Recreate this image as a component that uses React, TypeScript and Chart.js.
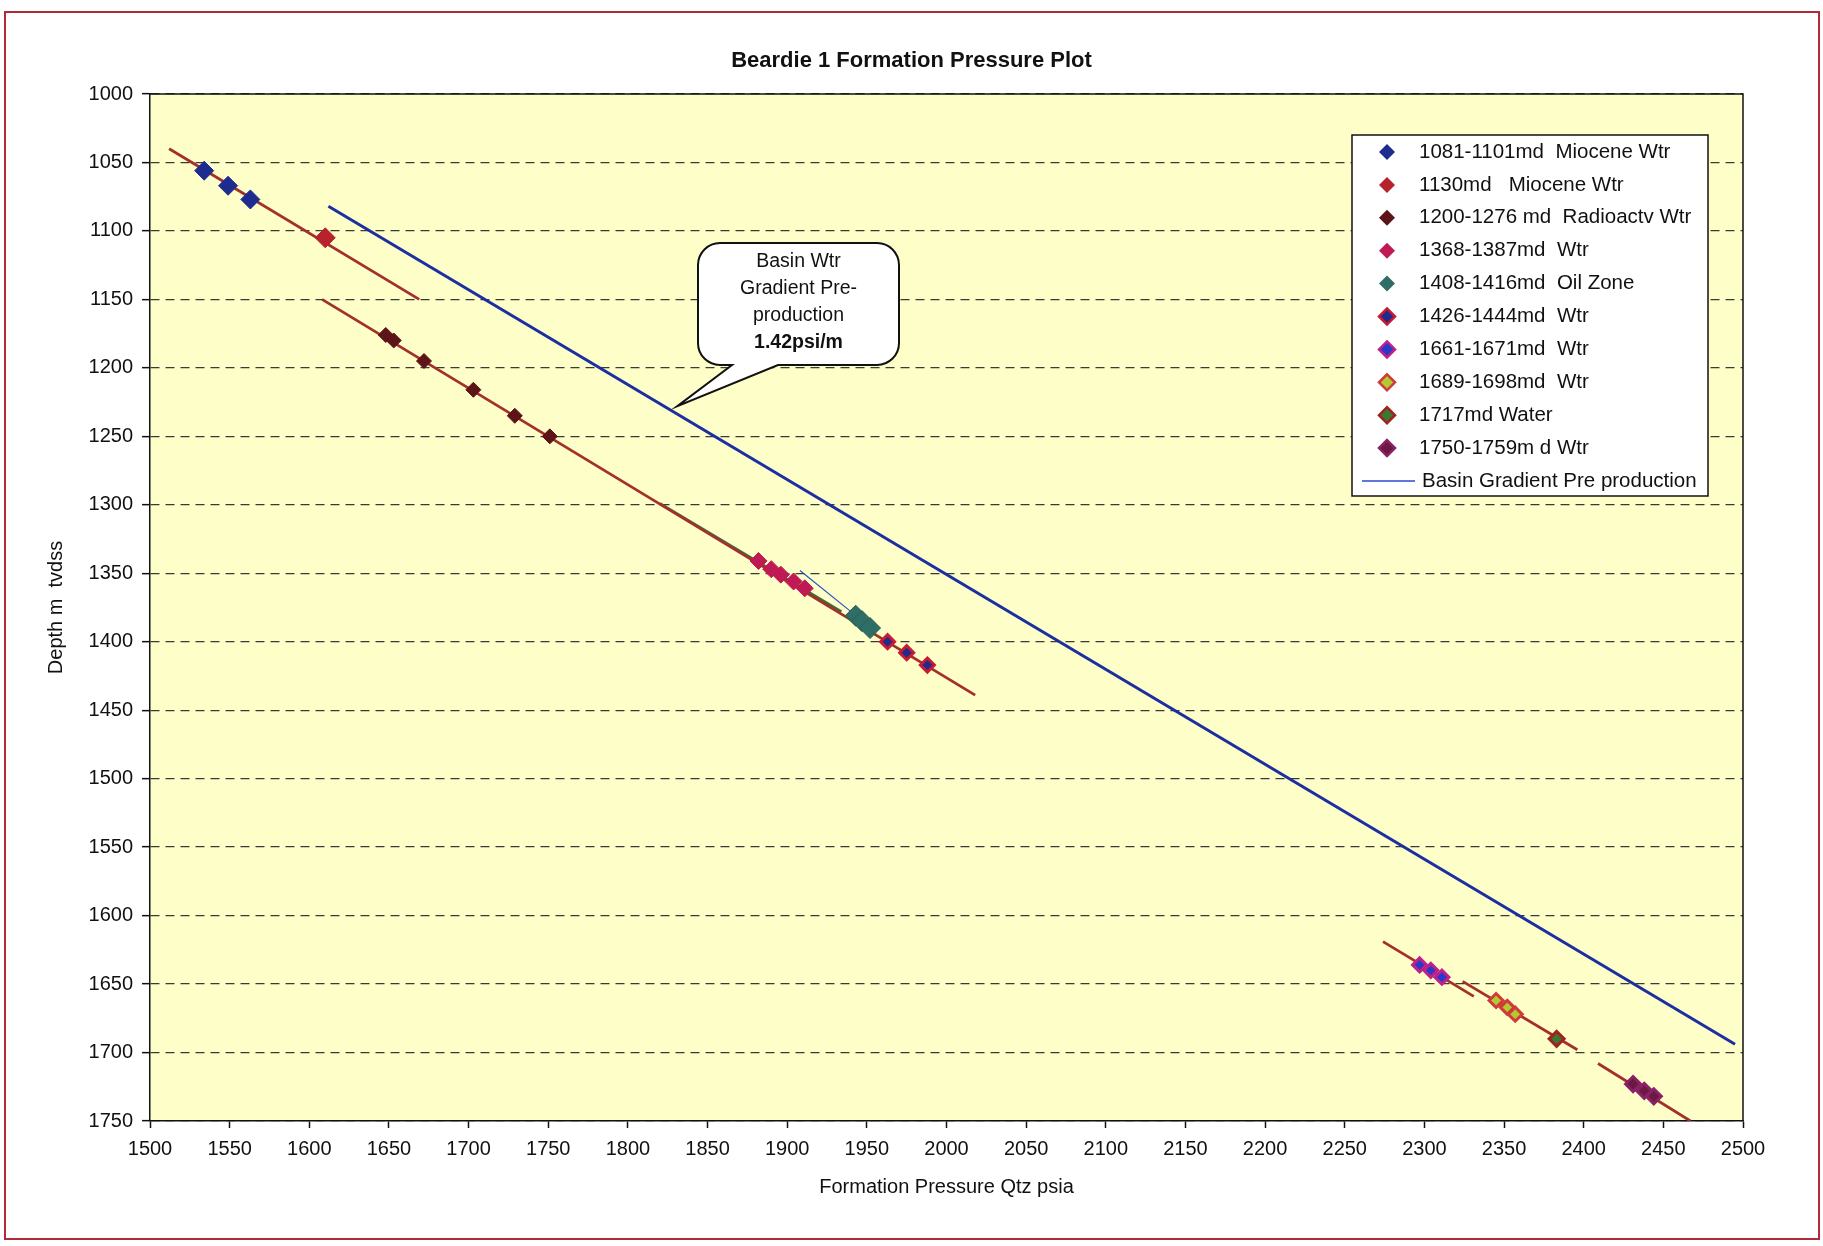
import React, { useEffect, useRef } from 'react';
import { Chart, registerables } from 'chart.js';

Chart.register(...registerables);

const FONT = "'Liberation Sans', Arial, Helvetica, sans-serif";

const chartTitle = 'Beardie 1 Formation Pressure Plot';
const xAxisTitle = 'Formation Pressure Qtz psia';
const yAxisTitle = 'Depth m  tvdss';

const pressureTicks = [1500, 1550, 1600, 1650, 1700, 1750, 1800, 1850, 1900, 1950, 2000, 2050, 2100, 2150, 2200, 2250, 2300, 2350, 2400, 2450, 2500];
const depthTicks = [1000, 1050, 1100, 1150, 1200, 1250, 1300, 1350, 1400, 1450, 1500, 1550, 1600, 1650, 1700, 1750];

// Measured formation pressures (psia) and depths (m tvdss)
const miocene1Pressure = [1534, 1549, 1563];
const miocene1Depth = [1056, 1067, 1077];
const miocene2Pressure = [1610];
const miocene2Depth = [1105];
const radioPressure = [1648, 1653, 1672, 1703, 1729, 1751];
const radioDepth = [1176, 1180, 1195, 1216, 1235, 1250];
const wtr1368Pressure = [1882, 1890, 1896, 1904, 1911];
const wtr1368Depth = [1341, 1347, 1351, 1356, 1361];
const oilPressure = [1943, 1947, 1952];
const oilDepth = [1381, 1385, 1390];
const wtr1426Pressure = [1963, 1975, 1988];
const wtr1426Depth = [1400, 1408, 1417];
const wtr1661Pressure = [2297, 2304, 2311];
const wtr1661Depth = [1636, 1640, 1645];
const wtr1689Pressure = [2345, 2352, 2357];
const wtr1689Depth = [1662, 1667, 1672];
const water1717Pressure = [2383];
const water1717Depth = [1690];
const wtr1750Pressure = [2431, 2438, 2444];
const wtr1750Depth = [1723, 1728, 1732];

// Basin gradient pre-production line
const basinPressure = [1612, 2495];
const basinDepth = [1082, 1694];

// Fitted gradient lines through the pressure points
const trendAPressure = [1512, 1669];
const trendADepth = [1040, 1150];
const trendBPressure = [1608, 2018];
const trendBDepth = [1150, 1439];
const oilTrendPressure = [1820, 1934];
const oilTrendDepth = [1299, 1378];
const oilGradPressure = [1908, 1940];
const oilGradDepth = [1348, 1378];
const trendCPressure = [2274, 2331];
const trendCDepth = [1619, 1659];
const trendDPressure = [2324, 2396];
const trendDDepth = [1648, 1698];
const trendEPressure = [2409, 2467];
const trendEDepth = [1708, 1750];

const calloutAnchorPressure = 1831;
const calloutAnchorDepth = 1228;
const calloutLines = ['Basin Wtr', 'Gradient Pre-', 'production', '1.42psi/m'];

const toPoints = (xs: number[], ys: number[]) => xs.map((x, i) => ({ x, y: ys[i] }));

function pointSet(label: string, xs: number[], ys: number[], fill: string, border: string, radius: number, bw: number) {
  return {
    type: 'scatter',
    label,
    data: toPoints(xs, ys),
    pointStyle: 'rectRot',
    pointRadius: radius,
    pointBackgroundColor: fill,
    pointBorderColor: border,
    pointBorderWidth: bw,
    backgroundColor: fill,
    borderColor: border,
    showLine: false,
    order: 0,
    inLegend: true,
  };
}

function lineSet(label: string, xs: number[], ys: number[], color: string, width: number, inLegend = false) {
  return {
    type: 'scatter',
    label,
    data: toPoints(xs, ys),
    showLine: true,
    borderColor: color,
    backgroundColor: color,
    borderWidth: width,
    pointRadius: 0,
    fill: false,
    order: 1,
    inLegend,
  };
}

function diamond(ctx: CanvasRenderingContext2D, x: number, y: number, r: number) {
  ctx.beginPath();
  ctx.moveTo(x, y - r);
  ctx.lineTo(x + r, y);
  ctx.lineTo(x, y + r);
  ctx.lineTo(x - r, y);
  ctx.closePath();
}

const decorPlugin = {
  id: 'decor',
  beforeDraw(chart: any) {
    const { ctx, chartArea: a, width, height } = chart;
    ctx.save();
    ctx.fillStyle = '#ffffff';
    ctx.fillRect(0, 0, width, height);
    ctx.fillStyle = '#FEFEC8';
    ctx.fillRect(a.left, a.top, a.right - a.left, a.bottom - a.top);
    ctx.strokeStyle = '#b02a3a';
    ctx.lineWidth = 2;
    ctx.strokeRect(5, 12, 1814, 1227);
    // chart title, centred on the page
    ctx.fillStyle = '#111';
    ctx.font = `bold 22px ${FONT}`;
    ctx.textAlign = 'center';
    ctx.textBaseline = 'middle';
    ctx.fillText(chartTitle, width / 2, 61);
    ctx.restore();
  },
  afterDraw(chart: any) {
    const { ctx, chartArea: a } = chart;
    const xs = chart.scales.x;
    const ys = chart.scales.y;
    ctx.save();
    // top & right frame of plot area
    ctx.strokeStyle = '#111';
    ctx.lineWidth = 1.5;
    ctx.beginPath();
    ctx.moveTo(a.left, a.top);
    ctx.lineTo(a.right, a.top);
    ctx.lineTo(a.right, a.bottom);
    ctx.stroke();

    // callout
    const tx = xs.getPixelForValue(calloutAnchorPressure);
    const ty = ys.getPixelForValue(calloutAnchorDepth);
    const L = 698, T = 243, R = 899, B = 365, r = 22;
    const bx1 = 732, bx2 = 778;
    ctx.beginPath();
    ctx.moveTo(L + r, T);
    ctx.lineTo(R - r, T);
    ctx.arcTo(R, T, R, T + r, r);
    ctx.lineTo(R, B - r);
    ctx.arcTo(R, B, R - r, B, r);
    ctx.lineTo(bx2, B);
    ctx.lineTo(tx, ty);
    ctx.lineTo(bx1, B);
    ctx.lineTo(L + r, B);
    ctx.arcTo(L, B, L, B - r, r);
    ctx.lineTo(L, T + r);
    ctx.arcTo(L, T, L + r, T, r);
    ctx.closePath();
    ctx.fillStyle = '#ffffff';
    ctx.fill();
    ctx.strokeStyle = '#111';
    ctx.lineWidth = 2;
    ctx.stroke();
    ctx.fillStyle = '#111';
    ctx.textAlign = 'center';
    ctx.textBaseline = 'middle';
    calloutLines.forEach((line, i) => {
      const bold = i === calloutLines.length - 1;
      ctx.font = `${bold ? 'bold ' : ''}19.5px ${FONT}`;
      ctx.fillText(line, (L + R) / 2, 262 + i * 27);
    });

    // legend
    const LL = 1352, LT = 135, LR = 1708, LB = 496;
    ctx.fillStyle = '#ffffff';
    ctx.fillRect(LL, LT, LR - LL, LB - LT);
    ctx.strokeStyle = '#111';
    ctx.lineWidth = 1.5;
    ctx.strokeRect(LL, LT, LR - LL, LB - LT);
    const items = chart.data.datasets.filter((d: any) => d.inLegend);
    ctx.textAlign = 'left';
    ctx.textBaseline = 'middle';
    ctx.font = `20.5px ${FONT}`;
    items.forEach((d: any, i: number) => {
      const y = 152 + i * 32.9;
      if (d.showLine) {
        ctx.strokeStyle = '#2a4ad0';
        ctx.lineWidth = 1.5;
        ctx.beginPath();
        ctx.moveTo(1362, y);
        ctx.lineTo(1415, y);
        ctx.stroke();
        ctx.fillStyle = '#111';
        ctx.fillText(d.label, 1422, y);
      } else {
        diamond(ctx, 1387, y, 8);
        ctx.fillStyle = d.pointBackgroundColor;
        ctx.fill();
        if (d.pointBorderWidth > 1) {
          ctx.strokeStyle = d.pointBorderColor;
          ctx.lineWidth = 2.5;
          ctx.stroke();
        }
        ctx.fillStyle = '#111';
        ctx.fillText(d.label, 1419, y);
      }
    });
    ctx.restore();
  },
};

export default function App() {
  const ref = useRef<HTMLCanvasElement | null>(null);
  useEffect(() => {
    if (!ref.current) return;
    const TREND = '#a3302a';
    const datasets: any[] = [
      pointSet('1081-1101md  Miocene Wtr', miocene1Pressure, miocene1Depth, '#1d2c8e', '#1d2c8e', 9.5, 1),
      pointSet('1130md   Miocene Wtr', miocene2Pressure, miocene2Depth, '#b8222c', '#b8222c', 10, 1),
      pointSet('1200-1276 md  Radioactv Wtr', radioPressure, radioDepth, '#5c1418', '#5c1418', 7.5, 1),
      pointSet('1368-1387md  Wtr', wtr1368Pressure, wtr1368Depth, '#c01a55', '#c01a55', 8.5, 1),
      pointSet('1408-1416md  Oil Zone', oilPressure, oilDepth, '#2f6e66', '#2a5c56', 10.5, 1),
      pointSet('1426-1444md  Wtr', wtr1426Pressure, wtr1426Depth, '#1d2c8e', '#c81a30', 7, 3),
      pointSet('1661-1671md  Wtr', wtr1661Pressure, wtr1661Depth, '#2a3ac8', '#c0208a', 7, 3),
      pointSet('1689-1698md  Wtr', wtr1689Pressure, wtr1689Depth, '#b4c832', '#d03a3a', 7, 3),
      pointSet('1717md Water', water1717Pressure, water1717Depth, '#3a7a30', '#a02222', 7.5, 3),
      pointSet('1750-1759m d Wtr', wtr1750Pressure, wtr1750Depth, '#6a1a40', '#8a2068', 7.5, 3),
      lineSet('Basin Gradient Pre production', basinPressure, basinDepth, '#1c2ea0', 3, true),
      lineSet('trend A', trendAPressure, trendADepth, TREND, 2.8),
      lineSet('trend B', trendBPressure, trendBDepth, TREND, 2.8),
      lineSet('oil trend', oilTrendPressure, oilTrendDepth, '#3d6a3a', 2.8),
      lineSet('oil gradient', oilGradPressure, oilGradDepth, '#2a50c8', 1.2),
      lineSet('trend C', trendCPressure, trendCDepth, TREND, 2.8),
      lineSet('trend D', trendDPressure, trendDDepth, TREND, 2.8),
      lineSet('trend E', trendEPressure, trendEDepth, TREND, 2.8),
    ];
    const tickFont = { family: FONT, size: 20 };
    const plain = (v: any) => String(v);
    const chart = new Chart(ref.current, {
      type: 'scatter',
      data: { datasets },
      plugins: [decorPlugin],
      options: {
        animation: false,
        responsive: false,
        devicePixelRatio: 1,
        layout: { padding: { top: 94, right: 80, bottom: 0, left: 0 } },
        plugins: {
          legend: { display: false },
          tooltip: { enabled: false },
          title: { display: false },
        },
        scales: {
          x: {
            type: 'linear',
            min: 1500,
            max: 2500,
            afterBuildTicks: (s: any) => {
              s.ticks = pressureTicks.map((v) => ({ value: v }));
            },
            afterFit: (s: any) => {
              s.height = 125;
            },
            ticks: { font: tickFont, color: '#111', padding: 9, maxRotation: 0, autoSkip: false, callback: plain },
            grid: { drawOnChartArea: false, drawTicks: true, tickLength: 7, tickColor: '#111', tickWidth: 1.5, tickBorderDash: [] },
            border: { display: true, color: '#111', width: 1.5 },
            title: {
              display: true,
              text: xAxisTitle,
              color: '#111',
              font: { family: FONT, size: 20 },
              padding: { top: 0, bottom: 47 },
            },
          },
          y: {
            type: 'linear',
            reverse: true,
            min: 1000,
            max: 1750,
            afterBuildTicks: (s: any) => {
              s.ticks = depthTicks.map((v) => ({ value: v }));
            },
            afterFit: (s: any) => {
              s.width = 150;
            },
            ticks: { font: tickFont, color: '#111', padding: 9, autoSkip: false, callback: plain },
            grid: {
              drawOnChartArea: true,
              drawTicks: true,
              color: '#3a3a3a',
              lineWidth: 1.3,
              tickLength: 8,
              tickColor: '#111',
              tickWidth: 1.5,
              tickBorderDash: [],
            },
            border: { display: true, color: '#111', width: 1.5, dash: [9, 6] },
            title: {
              display: true,
              text: yAxisTitle,
              color: '#111',
              font: { family: FONT, size: 20 },
              padding: { top: 44, bottom: 0 },
            },
          },
        },
      } as any,
    } as any);
    return () => chart.destroy();
  }, []);
  return (
    <div style={{ position: 'absolute', left: 0, top: 0, width: 1823, height: 1246 }}>
      <canvas ref={ref} width={1823} height={1246} style={{ width: 1823, height: 1246, display: 'block' }} />
    </div>
  );
}
